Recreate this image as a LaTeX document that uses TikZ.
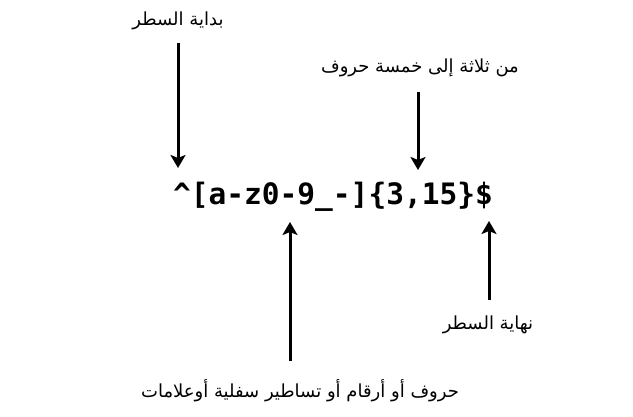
\documentclass[tikz,border=0pt]{standalone}
\usepackage{fontspec}
\usetikzlibrary{arrows.meta}
\TeXXeTstate=1
\newfontfamily\arabicfont[Script=Arabic]{DejaVu Sans}
\newfontfamily\regexfont{DejaVu Sans Mono}
\tikzstyle{labelstyle}=[inner sep=0pt, font=\arabicfont\fontsize{18}{20}\selectfont]
\tikzstyle{regexstyle}=[inner sep=0pt, font=\regexfont\bfseries\fontsize{29.5}{32}\selectfont]
\tikzstyle{pointer}=[line width=3pt, -{Stealth[length=13pt,width=15pt,inset=3pt]}]

\begin{document}
\begin{tikzpicture}[x=1pt,y=1pt]
\useasboundingbox (0,0) rectangle (633,416);

% Expression
\node[regexstyle] (regex) at (333,219) {\^{}[a-z0-9\_-]\{3,15\}\$};

% Labels
\node[labelstyle] (bol) at (178,395) {\beginR بداية السطر\endR};
\node[labelstyle] (range) at (420,348) {\beginR من ثلاثة إلى خمسة حروف\endR};
\node[labelstyle] (eol) at (488,91) {\beginR نهاية السطر\endR};
\node[labelstyle] (chars) at (300,25) {\beginR حروف أو أرقام أو تساطير سفلية أوعلامات\endR};

% Arrow tips
\coordinate (bolTip) at (178,248);
\coordinate (rangeTip) at (418,246);
\coordinate (charsTip) at (290,194);
\coordinate (eolTip) at (489,195);

% Arrows
\draw[pointer, shorten <=13pt] (bol.south -| bolTip) -- (bolTip);
\draw[pointer, shorten <=15pt] (range.south -| rangeTip) -- (rangeTip);
\draw[pointer, shorten <=19pt] (chars.north -| charsTip) -- (charsTip);
\draw[pointer, shorten <=16pt] (eol.north -| eolTip) -- (eolTip);

\end{tikzpicture}
\end{document}
